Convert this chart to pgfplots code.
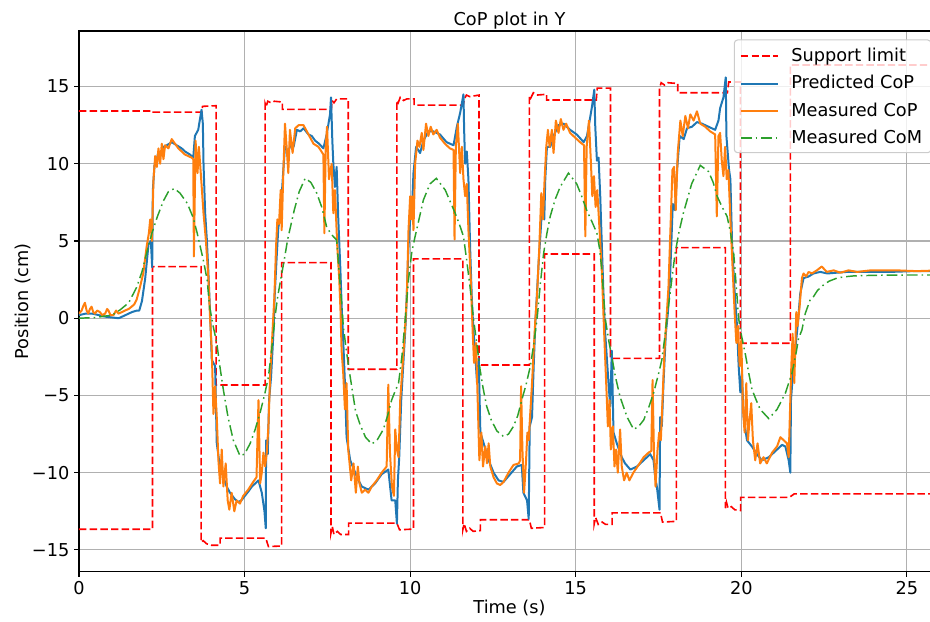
\documentclass[border=0pt]{standalone}
\usepackage{fontspec}
\setmainfont{DejaVu Sans}
\usepackage{pgfplots}
\usepackage{pgfplotstable}
\pgfplotsset{compat=1.18}

\definecolor{mplblue}{HTML}{1F77B4}
\definecolor{mplorange}{HTML}{FF7F0E}
\definecolor{mplgreen}{HTML}{2CA02C}
\definecolor{mplred}{HTML}{FF0000}
\definecolor{gridgray}{HTML}{B0B0B0}
\definecolor{legendgray}{HTML}{CCCCCC}

\newcommand{\lblfont}{\fontsize{13.3}{16}\selectfont}

\pgfplotsset{
    supstyle/.style={draw=mplred, line width=1.2pt, dash pattern=on 5.6pt off 2.4pt},
    predstyle/.style={draw=mplblue, line width=1.5pt, line join=round},
    measstyle/.style={draw=mplorange, line width=1.5pt, line join=round},
    comstyle/.style={draw=mplgreen, line width=1.1pt, dash pattern=on 8pt off 3pt on 1.2pt off 3pt},
}

% support limit, upper edge
\pgfplotstableread{
t y
0 13.42
2.24 13.42
2.24 13.35
3.71 13.35
3.73 13.72
4.14 13.76
4.14 -4.32
5.62 -4.32
5.62 13.9
5.65 13.7
5.70 14.05
5.80 13.95
5.90 14.05
6.14 14.0
6.14 13.52
7.62 13.52
7.64 14.1
7.70 13.95
7.78 14.2
8.13 14.2
8.13 -3.30
9.60 -3.30
9.60 14.1
9.64 13.95
9.70 14.3
9.80 14.1
9.90 14.2
10.12 14.2
10.12 13.80
11.60 13.80
11.64 14.2
11.70 14.45
11.80 14.35
12.08 14.45
12.08 -3.03
13.60 -3.03
13.60 14.4
13.64 14.25
13.72 14.6
13.82 14.45
14.12 14.5
14.12 14.13
15.62 14.13
15.65 14.9
16.05 14.9
16.05 -2.60
17.53 -2.60
17.53 14.9
17.58 15.25
17.68 15.1
17.78 15.25
18.08 15.2
18.08 14.60
19.58 14.60
19.62 15.3
19.97 15.3
19.97 -1.62
21.48 -1.62
21.48 16.4
26 16.4
}\supup

% support limit, lower edge
\pgfplotstableread{
t y
0 -13.66
2.22 -13.66
2.22 3.34
3.69 3.34
3.69 -14.5
3.75 -14.4
3.85 -14.6
4.00 -14.7
4.26 -14.7
4.26 -14.24
5.64 -14.24
5.72 -14.78
6.12 -14.75
6.12 3.60
7.61 3.60
7.61 -13.9
7.65 -13.5
7.70 -14.0
7.80 -13.8
7.90 -14.0
8.14 -14.0
8.14 -13.27
9.60 -13.27
9.68 -13.7
10.10 -13.65
10.10 3.84
11.59 3.84
11.59 -13.7
11.63 -13.3
11.70 -13.8
11.80 -13.6
11.90 -13.8
12.12 -13.75
12.12 -13.05
13.60 -13.05
13.66 -13.6
14.06 -13.55
14.06 4.16
15.56 4.16
15.56 -13.3
15.60 -12.9
15.68 -13.35
15.80 -13.2
15.90 -13.35
16.10 -13.35
16.10 -12.60
17.56 -12.60
17.62 -13.2
18.04 -13.15
18.04 4.57
19.52 4.57
19.52 -12.3
19.55 -11.9
19.60 -12.3
19.70 -12.2
19.80 -12.4
19.98 -12.45
19.98 -11.60
21.45 -11.60
21.60 -11.37
26 -11.37
}\suplow

% predicted CoP
\pgfplotstableread{
t y
0 0.2
0.2 0.3
0.4 0.3
0.6 0.2
0.8 0.1
1.0 0.05
1.2 0.0
1.4 0.2
1.6 0.4
1.75 0.5
1.82 0.5
1.9 1.1
2.0 2.6
2.1 4.8
2.17 5.0
2.21 3.3
2.23 8.3
2.28 9.9
2.35 10.3
2.4 10.8
2.47 10.6
2.55 11.1
2.65 11.2
2.8 11.4
2.95 11.2
3.1 11.0
3.2 10.8
3.35 10.6
3.45 10.4
3.5 11.8
3.6 12.2
3.7 13.5
3.74 12.6
3.76 10.0
3.81 6.8
3.86 5.1
3.9 3.3
3.96 0.3
4.01 -2.7
4.11 -3.1
4.16 -8.1
4.23 -9.2
4.36 -10.3
4.46 -10.9
4.56 -11.3
4.7 -11.7
4.81 -11.9
4.9 -11.8
5.01 -11.5
5.12 -11.2
5.22 -10.9
5.32 -10.7
5.42 -10.5
5.52 -11.3
5.6 -12.5
5.64 -13.6
5.65 -7.9
5.7 -8.8
5.74 -5.3
5.8 -3.8
5.87 -1.0
5.91 1.5
5.97 4.0
6.02 5.9
6.07 6.4
6.12 7.9
6.17 9.6
6.22 11.1
6.32 10.8
6.4 11.3
6.48 11.1
6.58 12.2
6.68 12.1
6.78 12.3
6.93 11.9
7.03 11.8
7.13 11.5
7.25 11.3
7.38 11.0
7.48 11.9
7.58 13.2
7.61 14.3
7.65 11.5
7.68 10.0
7.73 8.5
7.78 9.8
7.83 6.4
7.89 3.3
7.94 0.3
7.98 -1.5
8.03 -4.2
8.08 -7.7
8.19 -9.2
8.34 -10.0
8.44 -10.5
8.54 -10.9
8.74 -11.1
8.94 -10.7
9.14 -10.1
9.34 -9.8
9.44 -11.8
9.55 -11.8
9.6 -13.3
9.63 -10.5
9.67 -9.0
9.73 -5.3
9.8 -2.7
9.87 -0.1
9.95 4.6
10.0 6.4
10.05 6.8
10.1 9.4
10.18 11.1
10.3 10.7
10.4 11.5
10.55 12.1
10.7 12.1
10.9 11.9
11.1 11.4
11.31 11.2
11.41 12.4
11.51 13.3
11.61 14.5
11.63 12.2
11.66 10.0
11.71 10.8
11.76 9.0
11.81 4.6
11.86 1.4
11.91 -0.8
11.96 -2.1
12.02 -4.2
12.07 -2.6
12.12 -7.4
12.22 -8.1
12.37 -9.2
12.52 -10.0
12.67 -10.5
12.82 -10.6
13.02 -10.1
13.22 -9.6
13.37 -9.5
13.42 -11.3
13.53 -11.8
13.58 -13.0
13.61 -7.0
13.68 -6.4
13.73 -3.1
13.78 -0.3
13.88 3.6
13.98 7.0
14.05 6.4
14.08 9.0
14.13 11.1
14.23 11.1
14.33 11.8
14.48 12.5
14.63 12.6
14.83 12.2
15.03 11.9
15.24 11.4
15.34 11.8
15.42 12.8
15.49 13.7
15.56 14.8
15.59 12.4
15.64 10.2
15.69 10.4
15.74 7.9
15.79 4.6
15.84 1.4
15.89 -1.0
15.99 -4.2
16.04 -5.7
16.09 -2.1
16.14 -7.4
16.24 -8.1
16.39 -9.0
16.49 -9.4
16.65 -9.8
16.85 -9.6
17.05 -9.2
17.25 -8.8
17.35 -9.2
17.4 -10.3
17.45 -10.9
17.53 -12.4
17.55 -6.4
17.6 -7.0
17.65 -4.2
17.72 -1.0
17.78 0.3
17.85 2.7
17.93 7.4
18.0 7.0
18.06 9.6
18.14 11.8
18.26 11.6
18.36 12.3
18.51 12.4
18.66 12.7
18.81 12.6
19.01 12.4
19.21 12.2
19.31 12.8
19.36 13.6
19.46 14.3
19.53 15.6
19.55 11.8
19.59 10.7
19.63 9.6
19.67 9.0
19.72 4.9
19.79 2.0
19.87 -0.5
19.92 -3.1
19.97 -4.8
20.02 -3.6
20.07 -6.4
20.17 -7.9
20.32 -8.3
20.47 -8.8
20.62 -9.2
20.83 -9.0
21.03 -8.6
21.23 -8.2
21.33 -8.3
21.43 -9.2
21.48 -10.0
21.5 -5.3
21.53 -4.4
21.58 -3.1
21.63 -2.0
21.7 -0.5
21.78 1.6
21.88 2.6
22.03 2.7
22.18 2.9
22.38 3.0
22.6 2.9
22.89 2.95
23.2 3.0
23.9 3.0
24.5 3.0
25.2 3.05
26 3.05
}\predcop

% measured CoP
\pgfplotstableread{
t y
0 0.3
0.08 0.5
0.13 0.8
0.18 1.0
0.23 0.5
0.28 0.3
0.33 0.6
0.38 0.75
0.43 0.4
0.48 0.3
0.55 0.5
0.63 0.4
0.7 0.2
0.79 0.3
0.85 0.6
0.89 0.5
0.95 0.2
1.04 0.2
1.12 0.5
1.19 0.3
1.3 0.4
1.39 0.5
1.5 0.6
1.59 0.75
1.67 0.9
1.74 1.2
1.84 2.0
1.94 2.9
2.04 4.6
2.11 5.5
2.15 6.4
2.2 5.0
2.25 9.0
2.3 10.5
2.35 9.8
2.4 11.0
2.45 10.0
2.5 11.3
2.55 10.3
2.6 11.2
2.7 11.0
2.8 11.6
2.9 11.3
3.0 11.0
3.1 10.8
3.2 10.6
3.3 10.5
3.4 10.4
3.45 10.3
3.47 4.0
3.52 11.5
3.58 9.4
3.62 11.1
3.69 9.0
3.76 6.8
3.83 5.1
3.91 2.5
3.96 -0.1
4.01 -2.1
4.06 -6.2
4.11 -4.4
4.16 -6.4
4.21 -9.2
4.26 -10.7
4.31 -8.5
4.36 -10.9
4.43 -9.4
4.49 -11.8
4.54 -12.4
4.61 -11.3
4.69 -12.5
4.76 -11.8
4.86 -12.0
4.96 -11.5
5.11 -11.1
5.26 -10.6
5.36 -10.3
5.42 -5.3
5.47 -10.7
5.52 -10.0
5.57 -8.7
5.62 -9.6
5.67 -8.7
5.72 -7.0
5.77 -3.8
5.84 -1.0
5.9 1.4
5.95 4.6
5.99 6.4
6.04 6.1
6.09 8.3
6.12 5.7
6.17 9.4
6.22 12.6
6.27 11.1
6.32 9.4
6.37 12.2
6.45 10.7
6.53 12.3
6.63 12.5
6.78 12.5
6.93 11.9
7.08 11.3
7.23 11.1
7.38 10.6
7.41 5.5
7.45 11.1
7.49 12.4
7.55 9.0
7.63 10.0
7.68 6.8
7.73 8.3
7.8 4.6
7.86 2.5
7.9 0.3
7.93 -2.1
7.98 -3.6
8.03 -5.9
8.08 -4.2
8.13 -8.5
8.22 -10.5
8.29 -9.4
8.36 -11.3
8.42 -9.6
8.47 -10.7
8.54 -11.3
8.64 -11.1
8.74 -11.3
8.84 -10.9
8.99 -10.5
9.14 -10.0
9.29 -9.6
9.34 -4.3
9.39 -8.7
9.45 -10.9
9.51 -11.5
9.55 -7.2
9.6 -8.5
9.65 -9.0
9.7 -5.3
9.77 -3.1
9.85 -0.5
9.9 1.4
9.95 5.7
10.0 7.9
10.03 6.4
10.06 7.9
10.1 5.7
10.15 10.0
10.22 11.5
10.28 11.1
10.35 12.0
10.4 10.9
10.48 12.6
10.55 11.8
10.62 12.4
10.7 11.9
10.8 12.2
10.9 11.7
11.05 11.3
11.2 11.0
11.31 10.9
11.34 5.1
11.38 11.1
11.44 12.6
11.51 9.4
11.56 11.1
11.61 9.0
11.66 7.9
11.71 8.7
11.76 5.7
11.83 2.5
11.89 -1.0
11.93 -2.9
11.99 -1.6
12.03 -4.6
12.09 -9.2
12.15 -7.4
12.2 -9.6
12.27 -8.3
12.32 -9.4
12.37 -8.1
12.42 -9.6
12.52 -10.3
12.62 -10.7
12.72 -10.8
12.82 -10.6
12.97 -10.0
13.12 -9.5
13.28 -9.4
13.32 -9.2
13.35 -4.4
13.39 -8.5
13.44 -11.3
13.5 -9.2
13.54 -7.4
13.58 -7.9
13.62 -6.4
13.68 -4.2
13.73 -2.1
13.78 -0.1
13.83 1.4
13.9 4.6
13.96 8.1
14.01 6.4
14.06 9.0
14.11 11.1
14.16 12.2
14.21 11.1
14.28 12.2
14.33 10.7
14.4 12.8
14.48 12.0
14.55 12.9
14.63 12.2
14.71 12.6
14.83 12.0
14.98 11.7
15.13 11.4
15.25 11.2
15.29 5.3
15.33 11.1
15.4 12.8
15.46 10.0
15.5 7.9
15.55 9.2
15.6 7.2
15.65 8.3
15.72 5.7
15.79 2.9
15.84 0.1
15.87 -1.6
15.92 -4.2
15.97 -7.0
16.02 -5.3
16.06 -8.5
16.12 -7.0
16.17 -9.6
16.22 -8.5
16.27 -10.0
16.34 -7.2
16.39 -9.6
16.46 -10.5
16.54 -10.0
16.62 -10.5
16.74 -10.0
16.9 -9.5
17.05 -9.0
17.2 -8.7
17.28 -8.6
17.32 -4.0
17.36 -8.5
17.41 -10.9
17.47 -8.5
17.52 -7.4
17.57 -7.9
17.62 -5.3
17.68 -2.1
17.75 0.3
17.8 2.0
17.87 6.4
17.92 9.6
17.97 9.8
18.02 7.0
18.08 10.7
18.16 12.8
18.23 11.8
18.31 13.1
18.39 12.3
18.46 13.2
18.56 12.8
18.66 13.4
18.76 12.6
18.91 12.4
19.06 12.1
19.21 11.9
19.26 6.6
19.31 11.8
19.36 12.0
19.41 10.2
19.46 9.2
19.51 11.1
19.56 9.0
19.61 9.6
19.67 6.4
19.74 3.1
19.8 0.3
19.85 -1.6
19.9 -0.5
19.95 -3.1
20.0 -1.4
20.05 -5.9
20.1 -7.4
20.15 -4.2
20.2 -7.9
20.25 -6.6
20.3 -5.5
20.35 -7.9
20.42 -9.2
20.49 -8.1
20.57 -9.4
20.67 -9.0
20.77 -9.4
20.93 -8.7
21.08 -8.3
21.18 -7.7
21.28 -7.9
21.38 -8.1
21.43 -9.0
21.48 -5.3
21.51 -3.1
21.55 -1.0
21.6 -4.2
21.66 0.4
21.7 -0.5
21.76 0.75
21.83 2.6
21.88 2.9
21.96 2.7
22.03 3.0
22.13 2.9
22.28 3.1
22.43 3.35
22.58 3.0
22.79 3.1
22.99 2.95
23.24 3.1
23.5 3.0
23.9 3.1
24.7 3.1
25.3 3.05
26 3.1
}\meascop

% measured CoM
\pgfplotstableread{
t y
0 0.0
0.5 0.05
1.0 0.2
1.24 0.54
1.5 1.0
1.74 2.0
1.9 3.0
2.04 4.2
2.2 5.5
2.37 6.6
2.55 7.6
2.7 8.2
2.88 8.4
3.05 8.1
3.27 7.44
3.45 6.5
3.57 5.5
3.75 3.8
3.87 2.5
3.94 0.8
4.05 -0.5
4.16 -1.6
4.26 -3.2
4.36 -4.64
4.5 -6.4
4.66 -7.9
4.86 -8.9
5.0 -8.8
5.17 -8.1
5.32 -7.2
5.47 -6.1
5.6 -5.0
5.72 -3.8
5.82 -2.0
5.92 0.1
6.0 1.4
6.09 2.5
6.2 3.8
6.3 5.1
6.5 7.0
6.65 8.2
6.83 9.06
7.0 8.8
7.18 8.1
7.33 7.2
7.48 5.9
7.63 5.4
7.78 5.07
7.93 1.0
7.98 -0.5
8.08 -2.2
8.19 -3.8
8.35 -6.0
8.49 -6.9
8.65 -7.7
8.84 -8.14
9.0 -7.9
9.19 -7.2
9.32 -6.3
9.44 -5.3
9.55 -4.7
9.65 -4.2
9.75 -2.5
9.85 -0.1
9.95 2.5
10.05 4.3
10.15 5.3
10.4 7.66
10.6 8.7
10.79 9.06
11.06 8.3
11.2 7.6
11.36 6.8
11.5 6.0
11.61 5.3
11.71 3.7
11.81 2.0
11.91 0.0
12.01 -1.6
12.11 -3.3
12.2 -4.5
12.31 -5.7
12.45 -6.6
12.62 -7.3
12.82 -7.66
12.97 -7.5
13.12 -7.0
13.25 -6.3
13.37 -5.3
13.5 -4.3
13.63 -3.1
13.73 -1.7
13.83 -0.1
13.93 2.2
14.03 4.2
14.13 5.5
14.23 6.6
14.38 7.7
14.53 8.5
14.78 9.4
15.03 8.7
15.18 7.9
15.33 7.0
15.5 6.2
15.64 5.5
15.72 4.5
15.79 3.1
15.89 0.0
16.0 -1.5
16.09 -2.5
16.2 -3.8
16.34 -5.1
16.55 -6.4
16.75 -7.2
16.9 -7.0
17.05 -6.6
17.2 -5.8
17.35 -4.85
17.5 -3.6
17.6 -2.7
17.68 -1.4
17.75 -0.1
17.8 0.75
17.9 2.5
18.0 4.2
18.12 5.6
18.25 6.8
18.5 8.7
18.76 9.9
19.01 9.5
19.15 8.8
19.27 7.9
19.42 7.2
19.57 6.6
19.67 5.6
19.77 4.2
19.85 2.0
19.92 0.0
19.97 -0.76
20.12 -2.3
20.22 -3.5
20.32 -4.6
20.45 -5.3
20.57 -5.9
20.83 -6.5
21.08 -5.9
21.2 -5.4
21.33 -4.85
21.43 -4.2
21.53 -3.56
21.65 -2.3
21.73 -1.3
21.83 -0.76
21.93 0.3
22.08 1.2
22.18 1.4
22.3 1.8
22.48 2.15
22.65 2.4
22.89 2.6
23.1 2.68
23.39 2.74
24 2.78
25 2.8
26 2.8
}\meascom

\begin{document}
\begin{tikzpicture}
\begin{axis}[
    at={(0,0)}, anchor=south west,
    scale only axis,
    width=645.75pt, height=405.5pt,
    xmin=0, xmax=26,
    ymin=-16.41, ymax=18.6,
    xtick={0,5,10,15,20,25},
    xticklabels={0,5,10,15,20,25},
    ytick={-15,-10,-5,0,5,10,15},
    yticklabels={−15,−10,−5,0,5,10,15},
    xtick pos=bottom, ytick pos=left,
    tick align=outside,
    major tick length=3.65pt,
    tick style={black, line width=0.8pt},
    axis line style={line width=0.8pt},
    grid=major,
    major grid style={gridgray, line width=0.8pt},
    ticklabel style={font=\lblfont},
    title={CoP plot in Y},
    every axis title shift=0pt,
    title style={font=\lblfont, at={(axis description cs:0.5,1.011)}, anchor=base},
    xlabel={Time (s)},
    ylabel={Position (cm)},
    xlabel style={font=\lblfont, at={(axis description cs:0.5,-0.0765)}, anchor=base},
    ylabel style={font=\lblfont, at={(axis description cs:-0.0592,0.5)}, anchor=base},
    legend cell align=left,
    legend image code/.code={\draw[#1] (0pt,0pt) -- (27.5pt,0pt);},
    legend style={
        at={(axis description cs:0.761,0.982)}, anchor=north west,
        draw=none, fill=none,
        inner sep=4pt,
        font=\lblfont,
        nodes={inner sep=0pt, text height=11.5pt, text depth=3.5pt},
        row sep=5.5pt, column sep=9.5pt,
    },
]
\addplot[supstyle, forget plot] table[x=t, y=y] {\supup};
\addplot[supstyle, forget plot] table[x=t, y=y] {\suplow};
\addplot[predstyle, forget plot] table[x=t, y=y] {\predcop};
\addplot[measstyle, forget plot] table[x=t, y=y] {\meascop};
\addplot[comstyle, forget plot] table[x=t, y=y] {\meascom};
% translucent legend frame, drawn under the legend entries
\filldraw[draw=legendgray, fill=white, fill opacity=0.8, line width=0.8pt, rounded corners=2.5pt]
    (rel axis cs:0.7611,0.9834) rectangle (rel axis cs:0.9895,0.7749);
\addlegendimage{supstyle, line width=1.6pt}
\addlegendentry{Support limit}
\addlegendimage{predstyle}
\addlegendentry{Predicted CoP}
\addlegendimage{measstyle}
\addlegendentry{Measured CoP}
\addlegendimage{comstyle, line width=1.6pt}
\addlegendentry{Measured CoM}
\end{axis}
\pgfresetboundingbox
\path[use as bounding box] (-59.25pt,-37pt) rectangle (638.25pt,428.75pt);
\end{tikzpicture}
\end{document}
